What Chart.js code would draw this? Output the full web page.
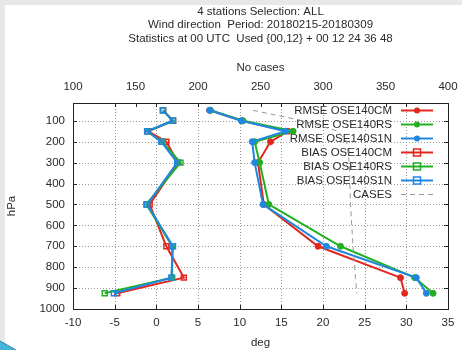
<!DOCTYPE html>
<html>
<head>
<meta charset="utf-8">
<script src="https://cdn.jsdelivr.net/npm/chart.js@4.4.1/dist/chart.umd.min.js"></script>
<style>
body { margin: 0; background: #fff; }
canvas { display: block; }
</style>
</head>
<body>
<canvas id="graficaViento" width="462" height="350"></canvas>
<script>
var titulos = [
    '4 stations Selection: ALL',
    'Wind direction  Period: 20180215-20180309',
    'Statistics at 00 UTC  Used {00,12} + 00 12 24 36 48'
];
var niveles = [50, 100, 150, 200, 300, 500, 700, 850, 925];
var rmseCM = [6.4, 10.3, 15.8, 13.7, 12.2, 12.9, 19.4, 29.3, 29.8];
var rmseRS = [6.5, 10.4, 16.4, 11.8, 12.4, 13.5, 22.1, 31.0, 33.2];
var rmseS1N = [6.4, 10.2, 15.5, 11.5, 11.8, 12.8, 20.4, 31.2, 32.4];
var biasCM = [0.8, 2.0, -1.0, 1.2, 2.6, -0.8, 1.2, 3.3, -4.7];
var biasRS = [0.8, 2.0, -1.1, 0.7, 2.9, -1.2, 1.9, 1.9, -6.2];
var biasS1N = [0.8, 2.0, -1.1, 0.6, 2.5, -1.1, 2.0, 1.8, -5.1];
var casos = [244, 284, 312, 319, 321, 322, 324, 326, 327];
var ticksPresion = [100, 200, 300, 400, 500, 600, 700, 800, 900, 1000];
var ticksGrados = [-10, -5, 0, 5, 10, 15, 20, 25, 30, 35];
var ticksCasos = [100, 150, 200, 250, 300, 350, 400];

document.addEventListener('DOMContentLoaded', function () {
    var rojo = '#e3261d', verde = '#22b022', azul = '#1f87e0', gris = '#999999';
    var fuente = { family: 'Liberation Sans, Arial, sans-serif', size: 11.5 };
    var colorTexto = '#2a2a2a';

    function puntos(valores) {
        return valores.map(function (v, i) { return { x: v, y: niveles[i] }; });
    }

    function textoTick(v) {
        return String(v);
    }

    // orden: las series posteriores quedan dibujadas encima
    function serie(etiqueta, valores, color, cuadrado, orden) {
        return {
            label: etiqueta,
            data: puntos(valores),
            order: orden,
            showLine: true,
            borderColor: color,
            backgroundColor: color,
            borderWidth: 2,
            pointStyle: cuadrado ? 'rect' : 'circle',
            pointRadius: cuadrado ? 3.5 : 3,
            pointBorderWidth: cuadrado ? 1.5 : 1,
            pointBorderColor: color,
            pointBackgroundColor: cuadrado ? 'rgba(0,0,0,0)' : color,
            xAxisID: 'x',
            yAxisID: 'y'
        };
    }

    var fondo = {
        id: 'fondo',
        beforeDraw: function (chart) {
            var c = chart.ctx;
            c.save();
            c.fillStyle = '#e8e8e8';
            c.fillRect(0, 0, chart.width, chart.height);
            c.fillStyle = '#ffffff';
            c.fillRect(5, 5, chart.width - 5, chart.height - 5);
            c.beginPath();
            c.moveTo(0, 341);
            c.lineTo(16, 350);
            c.lineTo(0, 350);
            c.closePath();
            c.fillStyle = '#46b4d8';
            c.fill();
            c.beginPath();
            c.moveTo(0, 341);
            c.lineTo(16, 350);
            c.strokeStyle = '#2a7fa6';
            c.lineWidth = 1;
            c.stroke();
            var a = chart.chartArea;
            c.fillStyle = colorTexto;
            c.font = fuente.size + 'px ' + fuente.family;
            c.textAlign = 'center';
            c.textBaseline = 'middle';
            var cy = [12, 25, 38.5];
            for (var i = 0; i < titulos.length; i++) {
                c.fillText(titulos[i], (a.left + a.right) / 2, cy[i]);
            }
            c.restore();
        }
    };

    // rejilla punteada y leyenda dentro del area del grafico
    var leyenda = {
        id: 'leyenda',
        beforeDatasetsDraw: function (chart) {
            var c = chart.ctx, a = chart.chartArea, s = chart.scales;
            c.save();
            c.strokeStyle = '#9a9a9a';
            c.lineWidth = 1;
            c.setLineDash([1, 2]);
            c.beginPath();
            ticksGrados.forEach(function (v) {
                var px = Math.round(s.x.getPixelForValue(v)) + 0.5;
                c.moveTo(px, a.top); c.lineTo(px, a.bottom);
            });
            ticksPresion.forEach(function (v) {
                var py = Math.round(s.y.getPixelForValue(v)) + 0.5;
                c.moveTo(a.left, py); c.lineTo(a.right, py);
            });
            c.stroke();
            c.setLineDash([]);

            c.font = fuente.size + 'px ' + fuente.family;
            c.textAlign = 'right';
            c.textBaseline = 'middle';
            chart.data.datasets.forEach(function (ds, i) {
                var y = 110.5 + i * 14;
                c.fillStyle = colorTexto;
                c.fillText(ds.label, 392, y);
                c.beginPath();
                c.setLineDash(ds.borderDash || []);
                c.moveTo(401, y);
                c.lineTo(433, y);
                c.strokeStyle = ds.borderColor;
                c.lineWidth = ds.borderWidth;
                c.stroke();
                c.setLineDash([]);
                if (ds.pointRadius > 0) {
                    c.beginPath();
                    if (ds.pointStyle === 'rect') {
                        c.rect(417 - 3.5, y - 3.5, 7, 7);
                        c.lineWidth = 1.5;
                        c.stroke();
                    } else {
                        c.arc(417, y, 3, 0, Math.PI * 2);
                        c.fillStyle = ds.borderColor;
                        c.fill();
                    }
                }
            });
            c.restore();
        }
    };

    var marco = {
        id: 'marco',
        afterDatasetsDraw: function (chart) {
            var c = chart.ctx, a = chart.chartArea, s = chart.scales;
            var t = 4;
            c.save();
            c.strokeStyle = '#222';
            c.lineWidth = 1;
            c.beginPath();
            ticksGrados.forEach(function (v) {
                var px = Math.round(s.x.getPixelForValue(v)) + 0.5;
                c.moveTo(px, a.bottom); c.lineTo(px, a.bottom - t);
                c.moveTo(px, a.top); c.lineTo(px, a.top + t);
            });
            ticksCasos.forEach(function (v) {
                var px = Math.round(s.x2.getPixelForValue(v)) + 0.5;
                c.moveTo(px, a.top); c.lineTo(px, a.top + t);
            });
            ticksPresion.forEach(function (v) {
                var py = Math.round(s.y.getPixelForValue(v)) + 0.5;
                c.moveTo(a.left, py); c.lineTo(a.left + t, py);
                c.moveTo(a.right, py); c.lineTo(a.right - t, py);
            });
            c.stroke();
            c.strokeRect(Math.round(a.left) + 0.5, Math.round(a.top) + 0.5,
                Math.round(a.right - a.left), Math.round(a.bottom - a.top));
            c.restore();
        }
    };

    var ctx = document.getElementById('graficaViento').getContext('2d');
    var myChart = new Chart(ctx, {
        type: 'scatter',
        data: {
            datasets: [
                serie('RMSE OSE140CM', rmseCM, rojo, false, 7),
                serie('RMSE OSE140RS', rmseRS, verde, false, 6),
                serie('RMSE OSE140S1N', rmseS1N, azul, false, 5),
                serie('BIAS OSE140CM', biasCM, rojo, true, 4),
                serie('BIAS OSE140RS', biasRS, verde, true, 3),
                serie('BIAS OSE140S1N', biasS1N, azul, true, 2),
                {
                    label: 'CASES',
                    data: puntos(casos),
                    order: 1,
                    showLine: true,
                    borderColor: gris,
                    borderWidth: 1,
                    borderDash: [5, 4],
                    pointRadius: 0,
                    xAxisID: 'x2',
                    yAxisID: 'y'
                }
            ]
        },
        options: {
            responsive: false,
            animation: false,
            events: [],
            layout: { padding: { left: 0, right: 14, top: 0, bottom: 0 } },
            plugins: {
                legend: { display: false },
                tooltip: { enabled: false }
            },
            scales: {
                x: {
                    type: 'linear',
                    position: 'bottom',
                    min: -10,
                    max: 35,
                    afterBuildTicks: function (scale) {
                        scale.ticks = ticksGrados.map(function (v) { return { value: v }; });
                    },
                    afterFit: function (scale) {
                        scale.height = 41;
                        scale.paddingLeft = 0;
                        scale.paddingRight = 0;
                    },
                    ticks: { color: colorTexto, font: fuente, padding: 7, maxRotation: 0, autoSkip: false, callback: textoTick },
                    grid: { display: false, drawTicks: false },
                    border: { display: false },
                    title: { display: true, text: 'deg', color: colorTexto, font: fuente, padding: { top: 0, bottom: 0 } }
                },
                x2: {
                    type: 'linear',
                    position: 'top',
                    min: 100,
                    max: 400,
                    afterBuildTicks: function (scale) {
                        scale.ticks = ticksCasos.map(function (v) { return { value: v }; });
                    },
                    afterFit: function (scale) {
                        scale.height = 103;
                        scale.paddingLeft = 0;
                        scale.paddingRight = 0;
                    },
                    ticks: { color: colorTexto, font: fuente, padding: 9, maxRotation: 0, autoSkip: false, callback: textoTick },
                    grid: { display: false, drawTicks: false },
                    border: { display: false },
                    title: { display: true, text: 'No cases', color: colorTexto, font: fuente, padding: { top: 61, bottom: 0 } }
                },
                y: {
                    type: 'linear',
                    position: 'left',
                    reverse: true,
                    min: 15,
                    max: 1000,
                    afterBuildTicks: function (scale) {
                        scale.ticks = ticksPresion.map(function (v) { return { value: v }; });
                    },
                    afterFit: function (scale) {
                        scale.width = 73;
                        scale.paddingTop = 0;
                        scale.paddingBottom = 0;
                    },
                    ticks: { color: colorTexto, font: fuente, padding: 8, autoSkip: false, callback: textoTick },
                    grid: { display: false, drawTicks: false },
                    border: { display: false },
                    title: { display: true, text: 'hPa', color: colorTexto, font: fuente, padding: { top: 5, bottom: 0 } }
                }
            }
        },
        plugins: [fondo, leyenda, marco]
    });
});
</script>
</body>
</html>
